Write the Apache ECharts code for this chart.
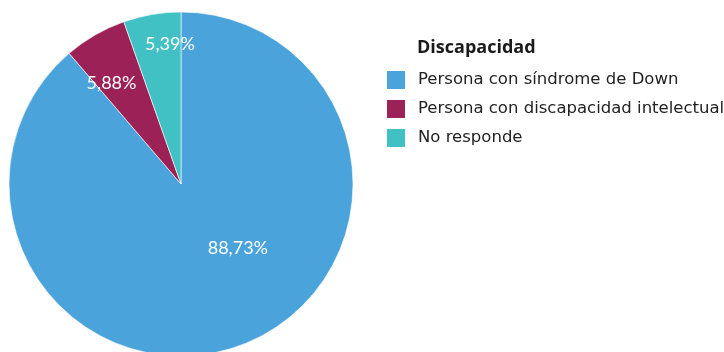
<!DOCTYPE html>
<html>
<head>
<meta charset="utf-8">
<script src="https://cdn.jsdelivr.net/npm/echarts@6/dist/echarts.min.js"></script>
<style>
  html, body { margin: 0; padding: 0; background: #ffffff; }
  #chart { width: 724px; height: 352px; }
</style>
</head>
<body>
<div id="chart"></div>
<script>
// Distribución por tipo de discapacidad (%)
const categories = [
  'Persona con síndrome de Down',
  'Persona con discapacidad intelectual',
  'No responde'
];
const values = [88.73, 5.88, 5.39];
const colors = ['#4aa3db', '#9c2157', '#42c1c4'];
const legendTitle = 'Discapacidad';

// nudges for the in-slice percentage labels
const labelNudge = [[26, -19], [-25, -24], [4, -52]];

const chart = echarts.init(document.getElementById('chart'), null, { renderer: 'canvas' });

chart.setOption({
  animation: false,
  backgroundColor: '#ffffff',
  title: {
    text: legendTitle,
    left: 412,
    top: 34,
    textStyle: {
      fontFamily: 'Open Sans',
      fontWeight: 'bold',
      fontSize: 18,
      color: '#1a1a1a'
    }
  },
  legend: {
    orient: 'vertical',
    left: 380,
    top: 64,
    itemWidth: 20,
    itemHeight: 20,
    itemGap: 7,
    icon: 'rect',
    selectedMode: false,
    data: categories,
    textStyle: {
      fontFamily: 'DejaVu Sans',
      fontSize: 16.5,
      lineHeight: 20,
      color: '#222222',
      padding: [0, 0, 0, 7]
    }
  },
  series: [{
    type: 'pie',
    center: [181, 184],
    radius: 172,
    startAngle: 90,
    clockwise: true,
    silent: true,
    itemStyle: {
      borderColor: '#ffffff',
      borderWidth: 0.6
    },
    label: {
      show: true,
      position: 'inside',
      color: '#ffffff',
      fontFamily: 'Lato',
      fontSize: 18,
      formatter: p => p.value.toFixed(2).replace('.', ',') + '%'
    },
    labelLine: { show: false },
    labelLayout: p => ({ dx: labelNudge[p.dataIndex][0], dy: labelNudge[p.dataIndex][1] }),
    data: categories.map((name, i) => ({
      name,
      value: values[i],
      itemStyle: { color: colors[i] }
    }))
  }]
});
</script>
</body>
</html>
